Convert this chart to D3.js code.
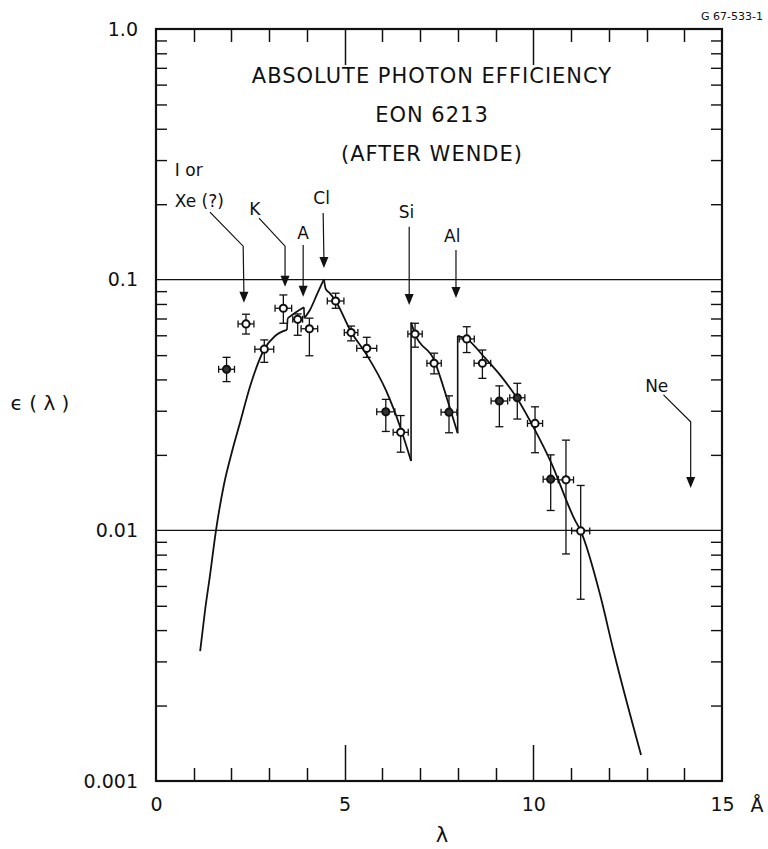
<!DOCTYPE html>
<html>
<head>
<meta charset="utf-8">
<title>Absolute photon efficiency EON 6213</title>
<style>
    body { margin: 0; background: #ffffff; }
    text { font-family: "DejaVu Sans", sans-serif; fill: #111; }
    .tick line { stroke: #111; stroke-width: 1.4px; }
    .tick text { font-size: 19px; }
</style>
<script src="https://d3js.org/d3.v7.min.js"></script>
</head>
<body>
<div id="chart"></div>
<script>
// measured points: wavelength (A), efficiency, error bar ends, wavelength error
var ptLambda = [1.87, 2.385, 2.87, 3.375, 3.755, 4.065, 4.76, 5.17, 5.585, 6.09, 6.485,
                6.865, 7.37, 7.765, 8.235, 8.65, 9.10, 9.575, 10.045, 10.46, 10.865, 11.255];
var ptEff = [0.0439, 0.0666, 0.0528, 0.0769, 0.0695, 0.0637, 0.0822, 0.0615, 0.0532, 0.0297, 0.0246,
             0.0607, 0.0464, 0.0296, 0.0580, 0.0464, 0.0328, 0.0338, 0.0267, 0.0160, 0.0159, 0.00995];
var ptLow = [0.0392, 0.0607, 0.0468, 0.0670, 0.0600, 0.0497, 0.0769, 0.0570, 0.0490, 0.0248, 0.0205,
             0.0538, 0.0421, 0.0245, 0.0512, 0.0404, 0.0259, 0.0278, 0.0204, 0.0120, 0.00805, 0.00531];
var ptHigh = [0.0490, 0.0728, 0.0575, 0.0869, 0.0730, 0.0702, 0.0883, 0.0653, 0.0589, 0.0333, 0.0287,
              0.0670, 0.0509, 0.0344, 0.0649, 0.0524, 0.0377, 0.0386, 0.0311, 0.0200, 0.0229, 0.0151];
var ptLambdaErr = [0.21, 0.21, 0.25, 0.22, 0.13, 0.22, 0.22, 0.18, 0.265, 0.24, 0.20,
                   0.19, 0.19, 0.21, 0.20, 0.22, 0.22, 0.20, 0.20, 0.20, 0.20, 0.24];
var ptFilled = [1, 0, 0, 0, 0, 0, 0, 0, 0, 1, 0,
                0, 0, 1, 0, 0, 1, 1, 0, 1, 0, 0];

// calculated efficiency curve, one piece per absorption edge
var curveLambda = [
    [1.17, 1.30, 1.43, 1.59, 1.80, 2.01, 2.245, 2.49, 2.87, 3.155, 3.47],
    [3.49, 3.70, 3.92],
    [3.93, 4.08, 4.26, 4.45],
    [4.45, 4.50, 4.61, 4.76, 5.17, 5.585, 6.09, 6.485, 6.76],
    [6.76, 6.865, 7.37, 7.765, 7.995],
    [7.995, 8.235, 8.675, 9.10, 9.56, 10.045, 10.46, 11.1, 11.255, 11.77, 12.12, 12.855]
];
var curveEff = [
    [0.0033, 0.0048, 0.0066, 0.0100, 0.0152, 0.0205, 0.0275, 0.0374, 0.0528, 0.0596, 0.0630],
    [0.0702, 0.0740, 0.0776],
    [0.0702, 0.0757, 0.0869, 0.1004],
    [0.1004, 0.0916, 0.0882, 0.0822, 0.0620, 0.0501, 0.0363, 0.0255, 0.0189],
    [0.0674, 0.0607, 0.0478, 0.0316, 0.0244],
    [0.0596, 0.0580, 0.0496, 0.0420, 0.0338, 0.0251, 0.0188, 0.0110, 0.00995, 0.00553, 0.00333, 0.00127]
];

var xTickMajor = [0, 5, 10, 15];
var xTickLabels = ["0", "5", "10", "15"];
var yTickMajor = [1, 0.1, 0.01, 0.001];
var yTickLabels = ["1.0", "0.1", "0.01", "0.001"];

var titleLines = ["ABSOLUTE PHOTON EFFICIENCY", "EON 6213", "(AFTER WENDE)"];

// absorption edge arrows, as [wavelength, efficiency] points ending at the tip
var arrowPaths = [
    [[1.43, 0.186], [2.31, 0.136], [2.33, 0.0809]],
    [[2.73, 0.176], [3.42, 0.136], [3.42, 0.0937]],
    [[3.90, 0.1375], [3.90, 0.0855]],
    [[4.43, 0.1845], [4.45, 0.1113]],
    [[6.71, 0.1627], [6.71, 0.0792]],
    [[7.95, 0.1313], [7.95, 0.0845]],
    [[13.45, 0.0347], [14.17, 0.0271], [14.17, 0.01476]]
];
var edgeNames = ["I or", "Xe (?)", "K", "A", "Cl", "Si", "Al", "Ne"];
var edgeLambda = [0.50, 0.50, 2.62, 3.90, 4.39, 6.64, 7.85, 13.27];
var edgeEff = [0.260, 0.1955, 0.181, 0.1449, 0.2004, 0.1757, 0.1417, 0.0356];
var edgeAnchor = ["start", "start", "middle", "middle", "middle", "middle", "middle", "middle"];

var width = 768, height = 849;

var svg = d3.select("#chart").append("svg")
    .attr("width", width)
    .attr("height", height);

var x = d3.scaleLinear().domain([0, 15]).range([156, 722]);
var y = d3.scaleLog().domain([0.001, 1]).range([781, 29]);

var minorY = [];
[0.001, 0.01, 0.1].forEach(function(dec) {
    for (var k = 2; k <= 9; k++) minorY.push(k * dec);
});
var xTickAll = d3.range(1, 15);

function noDomain(g) { g.select(".domain").remove(); }

// x ticks on bottom and top, pointing inward (long at 5 and 10)
[[781, -1], [29, 1]].forEach(function(side) {
    svg.append("g").selectAll("line")
        .data(xTickAll)
        .enter().append("line")
        .attr("x1", function(d) { return Math.round(x(d)) + 0.5; })
        .attr("x2", function(d) { return Math.round(x(d)) + 0.5; })
        .attr("y1", side[0])
        .attr("y2", function(d) { return side[0] + side[1] * (d % 5 == 0 ? 36 : 13); })
        .attr("stroke", "#111")
        .attr("stroke-width", 1.5);
});

svg.append("g").attr("transform", "translate(0,781)")
    .call(d3.axisBottom(x).tickValues(xTickMajor).tickSize(0).tickPadding(17)
        .tickFormat(function(d, i) { return xTickLabels[i]; })).call(noDomain);

svg.append("g").attr("transform", "translate(156,0)")
    .call(d3.axisLeft(y).tickValues(minorY).tickSize(-11).tickFormat("")).call(noDomain);
svg.append("g").attr("transform", "translate(156,0)")
    .call(d3.axisLeft(y).tickValues(yTickMajor).tickSize(0).tickPadding(18)
        .tickFormat(function(d, i) { return yTickLabels[i]; })).call(noDomain);
svg.append("g").attr("transform", "translate(722,0)")
    .call(d3.axisRight(y).tickValues(minorY).tickSize(-11).tickFormat("")).call(noDomain);

svg.selectAll("text").attr("fill", "#111");

// decade lines
svg.append("g").selectAll("line")
    .data([0.1, 0.01])
    .enter().append("line")
    .attr("x1", x(0)).attr("x2", x(15))
    .attr("y1", function(d) { return y(d); })
    .attr("y2", function(d) { return y(d); })
    .attr("stroke", "#111").attr("stroke-width", 1.3);

// frame
svg.append("rect")
    .attr("x", x(0)).attr("y", y(1))
    .attr("width", x(15) - x(0)).attr("height", y(0.001) - y(1))
    .attr("fill", "none").attr("stroke", "#111").attr("stroke-width", 2.2);

// curve pieces, joined by vertical jumps at the edges
var pieces = curveLambda.map(function(ls, j) {
    return ls.map(function(l, i) { return [l, curveEff[j][i]]; });
});
var smooth = d3.line()
    .x(function(d) { return x(d[0]); })
    .y(function(d) { return y(d[1]); })
    .curve(d3.curveMonotoneX);
svg.append("g").selectAll("path")
    .data(pieces)
    .enter().append("path")
    .attr("fill", "none")
    .attr("stroke", "#111")
    .attr("stroke-width", 1.8)
    .attr("d", smooth);
var jumps = d3.range(pieces.length - 1).map(function(j) {
    return [pieces[j][pieces[j].length - 1], pieces[j + 1][0]];
});
svg.append("g").selectAll("path")
    .data(jumps)
    .enter().append("path")
    .attr("fill", "none")
    .attr("stroke", "#111")
    .attr("stroke-width", 1.6)
    .attr("d", d3.line()
        .x(function(d) { return x(d[0]); })
        .y(function(d) { return y(d[1]); }));

// measured points with error bars
var pts = ptLambda.map(function(l, i) {
    return { l: l, e: ptEff[i], lo: ptLow[i], hi: ptHigh[i], le: ptLambdaErr[i], f: ptFilled[i] };
});
var pg = svg.append("g").selectAll("g").data(pts).enter().append("g")
    .attr("stroke", "#111").attr("stroke-width", 1.3);

pg.append("line")
    .attr("x1", function(d) { return x(d.l); }).attr("x2", function(d) { return x(d.l); })
    .attr("y1", function(d) { return y(d.lo); }).attr("y2", function(d) { return y(d.hi); });
pg.append("line")
    .attr("x1", function(d) { return x(d.l) - 4; }).attr("x2", function(d) { return x(d.l) + 4; })
    .attr("y1", function(d) { return y(d.lo); }).attr("y2", function(d) { return y(d.lo); });
pg.append("line")
    .attr("x1", function(d) { return x(d.l) - 4; }).attr("x2", function(d) { return x(d.l) + 4; })
    .attr("y1", function(d) { return y(d.hi); }).attr("y2", function(d) { return y(d.hi); });
pg.append("line")
    .attr("x1", function(d) { return x(d.l - d.le); }).attr("x2", function(d) { return x(d.l + d.le); })
    .attr("y1", function(d) { return y(d.e); }).attr("y2", function(d) { return y(d.e); });
pg.append("line")
    .attr("x1", function(d) { return x(d.l - d.le); }).attr("x2", function(d) { return x(d.l - d.le); })
    .attr("y1", function(d) { return y(d.e) - 3.5; }).attr("y2", function(d) { return y(d.e) + 3.5; });
pg.append("line")
    .attr("x1", function(d) { return x(d.l + d.le); }).attr("x2", function(d) { return x(d.l + d.le); })
    .attr("y1", function(d) { return y(d.e) - 3.5; }).attr("y2", function(d) { return y(d.e) + 3.5; });
pg.append("circle")
    .attr("cx", function(d) { return x(d.l); })
    .attr("cy", function(d) { return y(d.e); })
    .attr("r", 3.6)
    .attr("stroke-width", 2)
    .attr("fill", function(d) { return d.f ? "#333" : "#fff"; });

// edge arrows
var arrowLine = d3.line()
    .x(function(d) { return x(d[0]); })
    .y(function(d) { return y(d[1]); });
arrowPaths.forEach(function(p) {
    var tip = p[p.length - 1];
    var tx = x(tip[0]), ty = y(tip[1]);
    var shaft = p.slice(0, p.length - 1).concat([[tip[0], y.invert(ty - 9)]]);
    svg.append("path")
        .attr("d", arrowLine(shaft))
        .attr("fill", "none").attr("stroke", "#111").attr("stroke-width", 1.2);
    svg.append("path")
        .attr("d", "M" + tx + "," + ty + "L" + (tx - 4.5) + "," + (ty - 11) + "L" + (tx + 4.5) + "," + (ty - 11) + "Z")
        .attr("fill", "#111");
});

svg.append("g").selectAll("text")
    .data(edgeNames)
    .enter().append("text")
    .attr("x", function(d, i) { return x(edgeLambda[i]); })
    .attr("y", function(d, i) { return y(edgeEff[i]); })
    .attr("text-anchor", function(d, i) { return edgeAnchor[i]; })
    .style("font-size", "17px")
    .text(function(d) { return d; });

// title block
svg.append("g").selectAll("text")
    .data(titleLines)
    .enter().append("text")
    .attr("x", 432)
    .attr("y", function(d, i) { return 83 + i * 39; })
    .attr("text-anchor", "middle")
    .style("font-size", "21px")
    .style("letter-spacing", "1px")
    .text(function(d) { return d; });

svg.append("text")
    .attr("x", 763).attr("y", 20)
    .attr("text-anchor", "end")
    .style("font-size", "11px")
    .text("G 67-533-1");

// axis titles
svg.append("text")
    .attr("x", 757).attr("y", 812)
    .attr("text-anchor", "middle")
    .style("font-size", "19px")
    .text("Å");

svg.append("text")
    .attr("x", 442).attr("y", 842)
    .attr("text-anchor", "middle")
    .style("font-size", "21px")
    .text("λ");

svg.append("text")
    .attr("x", 40).attr("y", 410)
    .attr("text-anchor", "middle")
    .style("font-size", "20px")
    .text("ϵ ( λ )");
</script>
</body>
</html>
